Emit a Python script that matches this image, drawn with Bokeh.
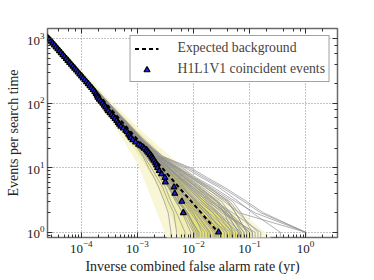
from bokeh.plotting import figure
from bokeh.models import Range1d, LogAxis, Legend, LegendItem, LogTicker
from bokeh.embed import file_html
from bokeh.resources import INLINE

# ---------------- data ----------------
# expected background (events per search time vs inverse FAR)
exp_x = [2.5e-5, 2.75e-2]
exp_n = [1100.0, 1.0]

# Poisson bands around the expectation (x grid, lower / upper N)
band_x = [2.5e-5, 1e-4, 3e-4, 1e-3, 2e-3, 4.2e-3, 7.2e-3, 1e-2, 1.5e-2, 2e-2, 5e-2, 1e-1, 2e-1, 3e-1, 5e-1]
one_lo = [1067, 258, 82, 22.3, 10.1, 4.1, 1.9, 1.09, 0.5, 0.5, 0.5, 0.5, 0.5, 0.5, 0.5]
one_hi = [1133, 292, 101, 32.7, 17.5, 9.1, 5.8, 4.4, 3.2, 2.55, 1.15, 0.7, 0.5, 0.5, 0.5]
two_lo = [1034, 242, 72.5, 17, 6.5, 1.6, 0.5, 0.5, 0.5, 0.5, 0.5, 0.5, 0.5, 0.5, 0.5]
two_hi = [1166, 308, 111, 38, 21.2, 11.7, 7.7, 6.1, 4.5, 3.7, 1.9, 1.0, 0.7, 0.55, 0.5]
three_lo = [1000, 225, 63, 11.8, 2.6, 0.5, 0.5, 0.5, 0.5, 0.5, 0.5, 0.5, 0.5, 0.5, 0.5]
three_hi = [1200, 325, 120, 43, 25, 14.2, 9.7, 7.7, 5.9, 4.9, 2.7, 1.6, 0.95, 0.7, 0.55]

# time-slide background realisations: log10(IFAR) at fixed count levels
slide_levels = [1100, 300, 100, 30, 15, 10, 7, 5, 3, 2, 1]
slide_logx = [
    [-4.60, -4.03, -3.55, -2.98, -2.55, -2.10, -1.80, -1.50, -1.10, -0.80, 0.00],
    [-4.60, -4.06, -3.58, -3.05, -2.78, -2.60, -2.45, -2.30, -2.05, -1.85, -1.50],
    [-4.60, -4.02, -3.53, -3.00, -2.68, -2.45, -2.25, -2.05, -1.75, -1.45, -1.00],
    [-4.60, -4.07, -3.60, -3.10, -2.85, -2.70, -2.60, -2.50, -2.40, -2.30, -2.15],
    [-4.60, -4.01, -3.51, -2.95, -2.62, -2.30, -2.05, -1.80, -1.40, -1.25, -1.05],
    [-4.60, -4.04, -3.56, -3.02, -2.72, -2.50, -2.32, -2.15, -1.90, -1.65, -1.30],
    [-4.60, -4.06, -3.59, -3.08, -2.82, -2.65, -2.52, -2.40, -2.20, -2.05, -1.80],
    [-4.60, -4.02, -3.52, -2.97, -2.58, -2.20, -1.95, -1.65, -1.25, -0.90, 0.00],
    [-4.60, -4.04, -3.55, -3.01, -2.70, -2.40, -2.18, -1.95, -1.60, -1.30, -0.80],
    [-4.60, -4.08, -3.61, -3.12, -2.88, -2.75, -2.65, -2.55, -2.45, -2.35, -2.30],
    [-4.60, -4.03, -3.54, -3.00, -2.65, -2.35, -2.12, -1.90, -1.55, -1.40, -1.20],
    [-4.60, -4.05, -3.57, -3.05, -2.76, -2.55, -2.40, -2.25, -2.00, -1.80, -1.40],
    [-4.60, -4.01, -3.52, -2.96, -2.58, -2.15, -1.85, -1.55, -1.20, -0.95, -0.45],
    [-4.60, -4.05, -3.57, -3.03, -2.77, -2.58, -2.42, -2.28, -2.10, -1.95, -1.70],
    [-4.60, -4.03, -3.54, -2.99, -2.68, -2.42, -2.20, -2.00, -1.70, -1.40, -1.10],
    [-4.60, -4.06, -3.59, -3.07, -2.80, -2.62, -2.48, -2.35, -2.15, -2.00, -1.85],
    [-4.60, -4.02, -3.51, -2.94, -2.60, -2.25, -1.98, -1.70, -1.30, -1.15, -0.95],
    [-4.60, -4.04, -3.55, -3.02, -2.72, -2.48, -2.28, -2.10, -1.85, -1.60, -1.20],
    [-4.60, -4.05, -3.58, -3.06, -2.78, -2.60, -2.48, -2.35, -2.25, -2.10, -1.95],
    [-4.60, -4.03, -3.53, -2.98, -2.64, -2.32, -2.08, -1.85, -1.50, -1.35, -1.15],
    [-4.60, -4.04, -3.56, -3.03, -2.74, -2.52, -2.36, -2.20, -1.95, -1.75, -1.45],
    [-4.60, -4.01, -3.50, -2.93, -2.55, -2.05, -1.75, -1.45, -1.05, -0.75, 0.00],
    [-4.60, -4.07, -3.60, -3.09, -2.84, -2.68, -2.56, -2.45, -2.30, -2.20, -2.05],
    [-4.60, -4.03, -3.54, -3.00, -2.69, -2.44, -2.24, -2.02, -1.72, -1.50, -0.90],
    [-4.60, -4.04, -3.56, -3.04, -2.75, -2.56, -2.42, -2.27, -2.05, -1.88, -1.60],
    [-4.60, -4.02, -3.52, -2.97, -2.60, -2.28, -2.02, -1.75, -1.35, -1.20, -0.85],
    [-4.60, -4.05, -3.57, -3.04, -2.76, -2.57, -2.45, -2.32, -2.12, -1.92, -1.65],
    [-4.60, -4.06, -3.59, -3.06, -2.80, -2.64, -2.53, -2.42, -2.28, -2.12, -1.90],
    [-4.60, -4.03, -3.54, -2.99, -2.67, -2.38, -2.15, -1.92, -1.58, -1.45, -1.30],
    [-4.60, -4.04, -3.55, -3.01, -2.71, -2.46, -2.27, -2.08, -1.80, -1.55, -1.15],
    [-4.60, -4.08, -3.62, -3.14, -2.90, -2.80, -2.70, -2.62, -2.52, -2.45, -2.40],
    [-4.60, -4.04, -3.56, -3.02, -2.73, -2.50, -2.34, -2.18, -1.98, -1.78, -1.55],
    [-4.60, -4.03, -3.53, -2.98, -2.66, -2.36, -2.14, -1.95, -1.65, -1.35, -1.00],
    [-4.60, -4.05, -3.58, -3.06, -2.79, -2.62, -2.50, -2.38, -2.18, -2.02, -1.75],
    [-4.60, -4.02, -3.52, -2.96, -2.62, -2.27, -2.00, -1.72, -1.38, -1.25, -1.05],
    [-4.60, -4.05, -3.57, -3.04, -2.77, -2.58, -2.44, -2.30, -2.08, -1.90, -1.62],
    [-4.60, -4.04, -3.55, -3.00, -2.70, -2.44, -2.22, -2.00, -1.68, -1.42, -0.95],
    [-4.60, -4.06, -3.60, -3.08, -2.83, -2.67, -2.55, -2.44, -2.32, -2.18, -2.00],
    [-4.60, -4.03, -3.53, -2.97, -2.63, -2.30, -2.04, -1.78, -1.45, -1.18, 0.00],
    [-4.60, -4.04, -3.56, -3.03, -2.74, -2.53, -2.37, -2.22, -1.96, -1.72, -1.35],
    [-4.60, -4.04, -3.55, -3.01, -2.72, -2.49, -2.30, -2.12, -1.85, -1.65, -1.40],
    [-4.60, -4.05, -3.56, -3.03, -2.75, -2.55, -2.40, -2.24, -2.02, -1.84, -1.58],
    [-4.60, -4.03, -3.54, -2.99, -2.68, -2.43, -2.23, -2.04, -1.76, -1.55, -1.25],
    [-4.60, -4.04, -3.57, -3.05, -2.78, -2.60, -2.46, -2.33, -2.14, -1.97, -1.72],
    [-4.60, -4.02, -3.53, -2.98, -2.65, -2.38, -2.16, -1.96, -1.66, -1.44, -1.18],
    [-4.60, -4.05, -3.58, -3.07, -2.81, -2.64, -2.52, -2.40, -2.24, -2.10, -1.92],
    [-4.60, -4.03, -3.54, -3.00, -2.69, -2.45, -2.26, -2.07, -1.80, -1.58, -1.32],
    [-4.60, -4.04, -3.56, -3.02, -2.73, -2.51, -2.33, -2.17, -1.93, -1.74, -1.50],
    [-4.60, -4.06, -3.59, -3.08, -2.83, -2.67, -2.55, -2.44, -2.27, -2.13, -1.98],
    [-4.60, -4.02, -3.52, -2.96, -2.61, -2.33, -2.10, -1.88, -1.58, -1.36, -1.10],
]

# H1L1V1 coincident events: cumulative count vs inverse FAR
event_n = [1050, 980, 915, 855, 800, 745, 695, 650, 605, 565, 528, 492, 460, 428, 400,
           373, 348, 325, 303, 283, 264, 246, 230, 214, 200, 186, 174, 162, 151, 141,
           132, 123, 115, 107, 100, 93, 87, 81, 76, 71, 66, 62, 58, 54, 50, 47, 44, 41,
           38, 36, 33, 31, 29, 27, 25, 23, 22, 21, 20, 19, 18, 17, 16, 15, 14, 13, 12,
           11, 10, 9, 8, 7, 6, 5, 4, 3, 2, 1]
event_x = [2.50e-5, 2.70e-5, 2.90e-5, 3.10e-5, 3.32e-5, 3.56e-5, 3.82e-5, 4.08e-5, 4.38e-5,
           4.70e-5, 5.03e-5, 5.40e-5, 5.78e-5, 6.20e-5, 6.65e-5, 7.12e-5, 7.63e-5, 8.18e-5,
           8.76e-5, 9.40e-5, 1.01e-4, 1.08e-4, 1.16e-4, 1.24e-4, 1.33e-4, 1.43e-4, 1.53e-4,
           1.63e-4, 1.74e-4, 1.84e-4, 1.92e-4, 1.98e-4, 2.10e-4, 2.25e-4, 2.42e-4, 2.58e-4,
           2.72e-4, 2.88e-4, 3.02e-4, 3.25e-4, 3.50e-4, 3.75e-4, 4.00e-4, 4.30e-4, 4.55e-4,
           4.80e-4, 5.10e-4, 5.60e-4, 6.20e-4, 6.60e-4, 7.00e-4, 7.40e-4, 7.70e-4, 8.30e-4,
           9.30e-4, 1.05e-3, 1.15e-3, 1.25e-3, 1.32e-3, 1.45e-3, 1.52e-3, 1.60e-3, 1.70e-3,
           1.80e-3, 1.88e-3, 1.98e-3, 2.12e-3, 2.20e-3, 2.30e-3, 2.45e-3, 2.70e-3, 3.10e-3,
           3.15e-3, 4.50e-3, 4.65e-3, 6.20e-3, 6.60e-3, 2.80e-2]

x_label = "Inverse combined false alarm rate (yr)"
y_label = "Events per search time"
legend_labels = ["Expected background", "H1L1V1 coincident events"]

# ---------------- figure ----------------
FONT = "Liberation Serif"
p = figure(frame_width=290, frame_height=209, x_axis_type="log", y_axis_type="log",
           x_range=Range1d(2.5e-5, 3.7), y_range=Range1d(0.83, 1445),
           output_backend="svg", toolbar_location=None,
           min_border_left=47, min_border_right=36, min_border_top=28, min_border_bottom=40)
p.background_fill_color = "white"
p.border_fill_color = "white"
p.outline_line_color = "#6a6a6a"
p.outline_line_width = 1.5

# bands
p.varea(x=band_x, y1=three_lo, y2=three_hi, fill_color="#f8f6d6")
p.varea(x=band_x, y1=two_lo, y2=two_hi, fill_color="#f0eeb0")
p.varea(x=band_x, y1=one_lo, y2=one_hi, fill_color="#e6e27a")

# background realisations
xs, ys = [], []
for row in slide_logx:
    xx = [10 ** v for v in row]
    yy = list(slide_levels)
    xx.append(xx[-1])
    yy.append(0.5)
    xs.append(xx)
    ys.append(yy)
p.multi_line(xs=xs, ys=ys, line_color="#909090", line_alpha=0.7, line_width=1)

dash_r = p.line(exp_x, exp_n, line_color="black", line_width=2, line_dash="4 3")
tri_r = p.scatter(event_x, event_n, marker="triangle", size=6, fill_color="#2020e0",
                  line_color="black", line_width=1.2)

# axes styling
for ax in (p.xaxis[0], p.yaxis[0]):
    ax.axis_line_color = None
    ax.major_tick_in = 5
    ax.major_tick_out = 0
    ax.minor_tick_in = 3
    ax.minor_tick_out = 0
    ax.major_tick_line_color = "#333333"
    ax.minor_tick_line_color = "#333333"
    ax.major_label_text_font = FONT
    ax.major_label_text_font_size = "13px"
    ax.major_label_text_color = "#222222"
    ax.axis_label_text_font = FONT
    ax.axis_label_text_font_size = "14px"
    ax.axis_label_text_font_style = "normal"
    ax.axis_label_text_color = "#222222"
    ax.major_label_standoff = 3
    ax.axis_label_standoff = 3
p.xaxis.axis_label = x_label
p.yaxis.axis_label = y_label

top = LogAxis(ticker=LogTicker(), major_label_text_font_size="1px", major_label_text_alpha=0,
              major_label_standoff=0, axis_line_color=None,
              major_tick_in=5, major_tick_out=0, minor_tick_in=3, minor_tick_out=0,
              major_tick_line_color="#333333", minor_tick_line_color="#333333")
right = LogAxis(ticker=LogTicker(), major_label_text_font_size="1px", major_label_text_alpha=0,
                major_label_standoff=0, axis_line_color=None,
                major_tick_in=5, major_tick_out=0, minor_tick_in=3, minor_tick_out=0,
                major_tick_line_color="#333333", minor_tick_line_color="#333333")
p.add_layout(top, "above")
p.add_layout(right, "right")

p.xgrid.grid_line_color = "#888888"
p.ygrid.grid_line_color = "#888888"
p.xgrid.grid_line_dash = "1 2"
p.ygrid.grid_line_dash = "1 2"

legend = Legend(items=[LegendItem(label=legend_labels[0], renderers=[dash_r]),
                       LegendItem(label=legend_labels[1], renderers=[tri_r])],
                location="top_right")
legend.label_text_font = FONT
legend.label_text_font_size = "13.7px"
legend.border_line_color = "#444444"
legend.border_line_width = 1
legend.background_fill_alpha = 1
legend.glyph_width = 24
legend.glyph_height = 15
legend.label_height = 15
legend.label_standoff = 19
legend.padding = 4
legend.spacing = 5
legend.margin = 7
p.add_layout(legend)

open("out.html", "w").write(file_html(p, INLINE))
